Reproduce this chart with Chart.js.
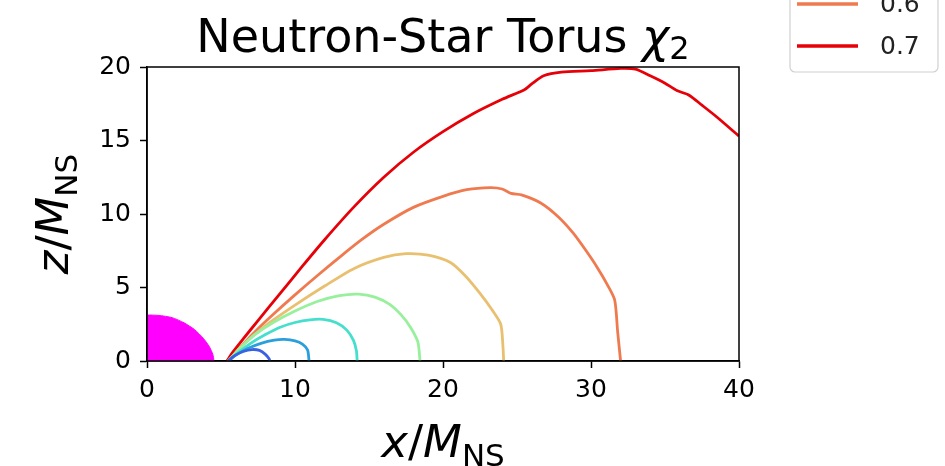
<!DOCTYPE html>
<html>
<head>
<meta charset="utf-8">
<script src="https://cdn.jsdelivr.net/npm/chart.js@4.4.0/dist/chart.umd.min.js"></script>
<style>
  html, body { margin: 0; padding: 0; background: #fff; }
  #wrap { width: 945px; height: 466px; }
</style>
</head>
<body>
<div id="wrap"><canvas id="torusChart" width="945" height="466"></canvas></div>
<script>
// contour levels and their line colours (rainbow map)
const levels = ['0.1', '0.2', '0.3', '0.4', '0.5', '0.6', '0.7'];
const levelColors = ['#3a62e0', '#2a9fdc', '#46dfcc', '#98f09c', '#e9c070', '#f07a50', '#e60008'];

// contour outlines, [x, z] in units of M_NS
const contour01 = [[5.5, 0], [5.9, 0.35], [6.5, 0.65], [7.1, 0.78], [7.6, 0.72], [8.0, 0.45], [8.25, 0.15], [8.3, 0]];
const contour02 = [[5.5, 0], [6.0, 0.4], [6.8, 0.85], [7.7, 1.2], [8.6, 1.42], [9.3, 1.47], [10.0, 1.37], [10.5, 1.15], [10.85, 0.75], [10.95, 0]];
const contour03 = [[5.5, 0], [6.2, 0.6], [7.0, 1.2], [8.0, 1.8], [9.0, 2.3], [10.0, 2.62], [11.0, 2.8], [11.9, 2.83], [12.8, 2.6], [13.5, 2.1], [13.95, 1.4], [14.15, 0.7], [14.2, 0]];
const contour04 = [[5.5, 0], [6.3, 0.9], [7.3, 1.8], [8.5, 2.6], [10.0, 3.4], [11.5, 4.05], [13.0, 4.45], [14.3, 4.55], [15.4, 4.35], [16.4, 3.85], [17.2, 3.1], [17.8, 2.3], [18.3, 1.3], [18.45, 0]];
const contour05 = [[5.5, 0], [6.5, 1.1], [8.0, 2.4], [10.0, 3.8], [12.0, 5.1], [14.0, 6.3], [16.0, 7.05], [17.5, 7.3], [19.0, 7.2], [20.5, 6.7], [21.5, 5.8], [22.5, 4.6], [23.3, 3.5], [23.9, 2.5], [24.05, 1.0], [24.1, 0]];
const contour06 = [[5.5, 0], [6.5, 1.15], [7.5, 2.2], [8.5, 3.15], [10.0, 4.5], [11.5, 5.8], [13.0, 7.05], [14.5, 8.25], [16.0, 9.3], [18.0, 10.45], [20.0, 11.2], [21.6, 11.65], [23.2, 11.8], [24.0, 11.7], [24.6, 11.4], [25.3, 11.3], [26.6, 10.75], [27.8, 9.8], [28.8, 8.7], [29.6, 7.6], [30.4, 6.4], [31.1, 5.2], [31.6, 4.15], [31.8, 2.0], [32.0, 0]];
const contour07 = [[5.4, 0], [5.8, 0.6], [6.5, 1.5], [7.5, 2.75], [9.0, 4.6], [10.5, 6.45], [12.0, 8.25], [14.0, 10.5], [16.0, 12.5], [18.0, 14.2], [20.0, 15.6], [22.0, 16.8], [24.0, 17.8], [25.5, 18.45], [26.0, 18.85], [26.8, 19.4], [28.0, 19.65], [30.0, 19.75], [32.0, 19.9], [33.0, 19.85], [34.0, 19.4], [35.0, 18.9], [35.8, 18.4], [36.6, 18.1], [37.5, 17.4], [38.5, 16.6], [40.0, 15.3]];
const contours = [contour01, contour02, contour03, contour04, contour05, contour06, contour07];

// neutron star surface (filled)
const starSurface = [[0, 3.13], [0.8, 3.1], [1.7, 2.95], [2.5, 2.6], [3.2, 2.15], [3.8, 1.55], [4.2, 1.0], [4.45, 0.45], [4.53, 0]];

const xTicks = [0, 10, 20, 30, 40];
const zTicks = [0, 5, 10, 15, 20];

const FONT = "'DejaVu Sans', sans-serif";

const toPoints = arr => arr.map(p => ({ x: p[0], y: p[1] }));

const datasets = [{
  label: 'star',
  data: toPoints(starSurface),
  showLine: true,
  fill: 'origin',
  backgroundColor: '#ff00ff',
  borderColor: '#ff00ff',
  borderWidth: 1,
  pointRadius: 0,
  tension: 0.2
}];
contours.forEach((c, i) => {
  datasets.push({
    label: levels[i],
    data: toPoints(c),
    showLine: true,
    fill: false,
    borderColor: levelColors[i],
    borderWidth: 2.8,
    pointRadius: 0,
    tension: 0.25
  });
});

// draw a run of text pieces (font / vertical shift) starting at x
function drawRuns(ctx, runs, x, y, align) {
  let total = 0;
  runs.forEach(r => { ctx.font = r.font; total += ctx.measureText(r.text).width; });
  let cx = align === 'center' ? x - total / 2 : x;
  ctx.textBaseline = 'alphabetic';
  ctx.textAlign = 'left';
  runs.forEach(r => {
    ctx.font = r.font;
    ctx.fillText(r.text, cx, y + (r.dy || 0));
    cx += ctx.measureText(r.text).width;
  });
}

const decorations = {
  id: 'decorations',
  beforeDraw(chart) {
    const ctx = chart.ctx;
    ctx.save();
    ctx.fillStyle = '#fff';
    ctx.fillRect(0, 0, chart.width, chart.height);
    ctx.restore();
  },
  afterDraw(chart) {
    const ctx = chart.ctx;
    const a = chart.chartArea;
    ctx.save();

    // axes frame
    ctx.strokeStyle = '#000';
    ctx.lineWidth = 1.5;
    ctx.strokeRect(a.left, a.top, a.right - a.left, a.bottom - a.top);

    ctx.fillStyle = '#000';
    // title
    drawRuns(ctx, [
      { text: 'Neutron-Star Torus ', font: `46px ${FONT}` },
      { text: 'χ', font: `italic 46px ${FONT}` },
      { text: '2', font: `32px ${FONT}`, dy: 7 }
    ], (a.left + a.right) / 2, 52, 'center');

    // x axis label
    const labelRuns = v => [
      { text: v, font: `italic 45px ${FONT}` },
      { text: '/', font: `45px ${FONT}` },
      { text: 'M', font: `italic 45px ${FONT}` },
      { text: 'NS', font: `31px ${FONT}`, dy: 9 }
    ];
    drawRuns(ctx, labelRuns('x'), (a.left + a.right) / 2, 457, 'center');

    // z axis label, rotated
    ctx.save();
    ctx.translate(68, (a.top + a.bottom) / 2);
    ctx.rotate(-Math.PI / 2);
    drawRuns(ctx, labelRuns('z'), 0, 0, 'center');
    ctx.restore();

    // legend box (runs off the top edge)
    const boxL = 790, boxR = 938, boxB = 72, step = 42;
    ctx.beginPath();
    ctx.roundRect(boxL, boxB - step * levels.length - 20, boxR - boxL, step * levels.length + 20, 5);
    ctx.fillStyle = 'rgba(255,255,255,0.85)';
    ctx.fill();
    ctx.strokeStyle = '#d0d0d0';
    ctx.lineWidth = 1.2;
    ctx.stroke();
    levels.forEach((lv, i) => {
      const y = 46 - (levels.length - 1 - i) * step;
      ctx.strokeStyle = levelColors[i];
      ctx.lineWidth = 3.5;
      ctx.beginPath();
      ctx.moveTo(797, y);
      ctx.lineTo(858, y);
      ctx.stroke();
      ctx.fillStyle = '#222';
      ctx.font = `25px ${FONT}`;
      ctx.textAlign = 'left';
      ctx.textBaseline = 'middle';
      ctx.fillText(lv, 880, y + 1);
    });
    ctx.restore();
  }
};

new Chart(document.getElementById('torusChart').getContext('2d'), {
  type: 'scatter',
  data: { datasets },
  options: {
    responsive: false,
    animation: false,
    layout: { padding: { top: 67, right: 206, left: 0, bottom: 0 } },
    plugins: {
      legend: { display: false },
      title: { display: false },
      tooltip: { enabled: false }
    },
    scales: {
      x: {
        type: 'linear',
        min: 0,
        max: 40,
        afterBuildTicks: s => { s.ticks = xTicks.map(v => ({ value: v })); },
        afterFit: s => { s.height = 466 - 361; },
        ticks: { color: '#000', font: { family: FONT, size: 25 }, padding: 7, maxRotation: 0 },
        grid: { drawOnChartArea: false, drawTicks: true, tickLength: 7, tickWidth: 1.5, tickColor: '#000' },
        border: { display: true, color: '#000', width: 1.5 }
      },
      y: {
        type: 'linear',
        min: 0,
        max: 20,
        afterBuildTicks: s => { s.ticks = zTicks.map(v => ({ value: v })); },
        afterFit: s => { s.width = 147; },
        ticks: { color: '#000', font: { family: FONT, size: 25 }, padding: 9 },
        grid: { drawOnChartArea: false, drawTicks: true, tickLength: 7, tickWidth: 1.5, tickColor: '#000' },
        border: { display: true, color: '#000', width: 1.5 }
      }
    }
  },
  plugins: [decorations]
});
</script>
</body>
</html>
